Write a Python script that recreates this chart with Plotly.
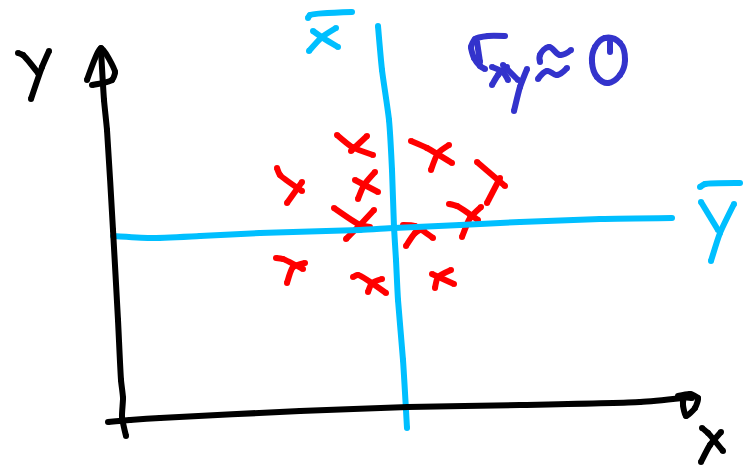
import plotly.graph_objects as go

# Hand drawn sketch, strokes traced in picture coordinates
CYAN = '#00BFFF'
RED = '#FF0000'
BLACK = '#000000'
INDIGO = '#3333CC'

xbar_vline = [(378, 26), (382, 70), (389, 120), (392, 170), (394, 227), (396, 260), (398, 300), (403, 360), (407, 428)]
ybar_hline = [(113, 236), (150, 238), (200, 236), (260, 233), (360, 230), (394, 228), (460, 225), (520, 222), (600, 219), (672, 218)]
xbar_label = [
    [(308, 18), (310, 15), (352, 12)],
    [(313, 31), (323, 38), (338, 47)],
    [(336, 28), (322, 37), (309, 51)],
]
ybar_label = [
    [(700, 187), (705, 184), (740, 183)],
    [(701, 202), (718, 230)],
    [(734, 204), (720, 233), (711, 261)],
]

red_crosses = [
    [(337, 135), (352, 147), (373, 155)], [(367, 136), (351, 151)],
    [(411, 141), (427, 148), (452, 163)], [(449, 145), (438, 153), (431, 170)],
    [(477, 162), (505, 186)], [(500, 178), (487, 203)],
    [(277, 168), (280, 175), (302, 191)], [(302, 182), (287, 203)],
    [(355, 180), (378, 192)], [(375, 172), (364, 185), (358, 199)],
    [(334, 208), (360, 225), (370, 227)], [(374, 210), (360, 225), (346, 239)],
    [(449, 204), (457, 206), (478, 220)], [(481, 207), (470, 218), (462, 237)],
    [(403, 225), (415, 226), (433, 238)], [(425, 227), (415, 233), (406, 246)],
    [(276, 258), (283, 259), (303, 269)], [(305, 263), (293, 267), (287, 283)],
    [(353, 277), (358, 275), (386, 293)], [(382, 279), (372, 283), (368, 292)],
    [(432, 274), (454, 284)], [(451, 270), (438, 277), (435, 288)],
]

y_axis = [(101, 50), (104, 100), (107, 130), (113, 230), (118, 320), (121, 380), (123, 398), (122, 417), (126, 436)]
y_arrow = [(87, 80), (101, 48), (115, 72), (112, 80), (92, 85)]
x_axis = [(108, 422), (130, 420), (160, 418), (300, 411), (408, 407), (520, 405), (640, 402), (683, 398)]
x_arrow = [(678, 396), (690, 394), (698, 398), (695, 408), (686, 416), (683, 405), (684, 398), (692, 398)]
black_labels = [
    [(18, 53), (23, 55), (38, 73)],
    [(49, 51), (42, 67), (31, 99)],
    [(702, 428), (708, 433), (723, 451)],
    [(721, 432), (710, 445), (701, 462)],
]

corr_label = [
    [(505, 36), (488, 36), (475, 39), (471, 47), (474, 58), (480, 66), (485, 69)],
    [(477, 42), (480, 62)],
    [(492, 67), (503, 72), (508, 80)],
    [(507, 67), (498, 75), (492, 85)],
    [(503, 65), (518, 80)],
    [(527, 69), (520, 87), (514, 111)],
]
approx_sign = [
    [(540, 62), (540, 55), (549, 47), (560, 55), (571, 50)],
    [(538, 79), (547, 71), (557, 75), (567, 68)],
]
zero_ring = [(605, 38), (595, 47), (592, 62), (597, 77), (608, 83), (620, 75), (625, 60), (620, 43), (605, 38)]
zero_tick = [(610, 42), (610, 52)]


def add_stroke(fig, points, color, width=6, smoothing=0.6):
    # Markers on the points give the pen its round ends
    fig.add_trace(go.Scatter(
        x=[p[0] for p in points],
        y=[p[1] for p in points],
        mode='lines+markers',
        line=dict(color=color, width=width, shape='spline', smoothing=smoothing),
        marker=dict(color=color, size=width, line=dict(width=0)),
        hoverinfo='skip',
        showlegend=False
    ))


fig = go.Figure()

for stroke in red_crosses:
    add_stroke(fig, stroke, RED)

add_stroke(fig, xbar_vline, CYAN)
add_stroke(fig, ybar_hline, CYAN)
for stroke in xbar_label + ybar_label:
    add_stroke(fig, stroke, CYAN)

add_stroke(fig, y_axis, BLACK)
add_stroke(fig, y_arrow, BLACK)
add_stroke(fig, x_axis, BLACK)
add_stroke(fig, x_arrow, BLACK)
for stroke in black_labels:
    add_stroke(fig, stroke, BLACK)

for stroke in corr_label + [zero_tick]:
    add_stroke(fig, stroke, INDIGO)
for stroke in approx_sign + [zero_ring]:
    add_stroke(fig, stroke, INDIGO, smoothing=1.2)

fig.update_layout(
    width=753,
    height=467,
    margin=dict(l=0, r=0, t=0, b=0),
    paper_bgcolor='white',
    plot_bgcolor='white',
    xaxis=dict(range=[0, 753], visible=False, fixedrange=True),
    yaxis=dict(range=[467, 0], visible=False, fixedrange=True)
)

# Drop the page margin so the figure sits at the window corner
fig.write_html(
    "out.html",
    config=dict(displayModeBar=False),
    post_script="document.body.style.margin='0';document.body.style.overflow='hidden';"
)
